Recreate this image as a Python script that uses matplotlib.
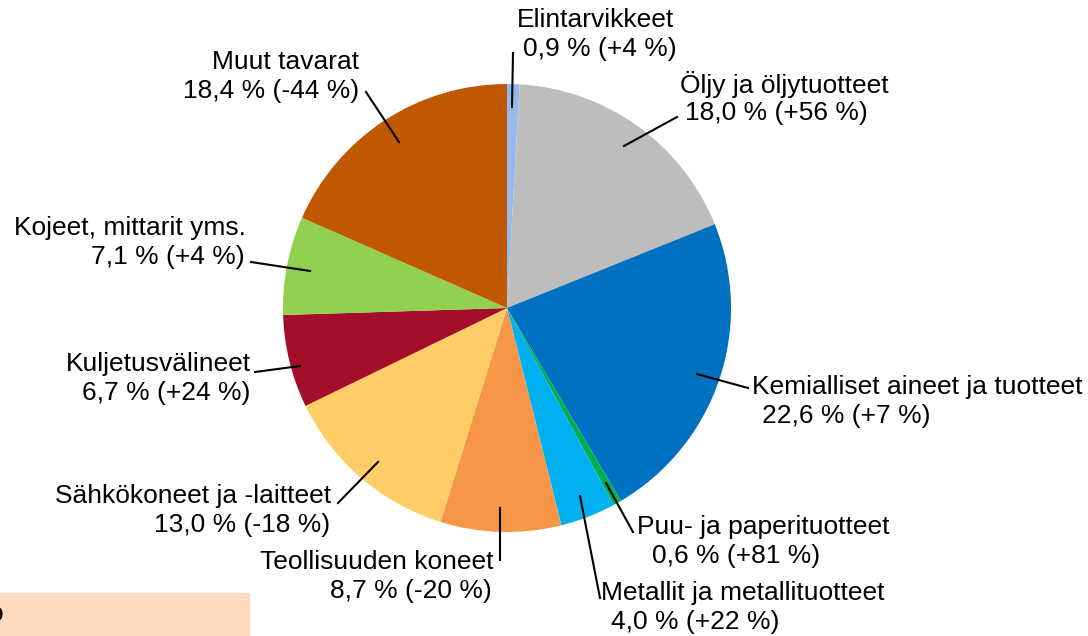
import matplotlib
matplotlib.use('Agg')
import matplotlib.pyplot as plt
from matplotlib.patches import Rectangle

plt.rcParams['font.family'] = ['Liberation Sans', 'DejaVu Sans']

# data (share of imports, clockwise from top)
categories = ['Elintarvikkeet', 'Öljy ja öljytuotteet', 'Kemialliset aineet ja tuotteet',
              'Puu- ja paperituotteet', 'Metallit ja metallituotteet', 'Teollisuuden koneet',
              'Sähkökoneet ja -laitteet', 'Kuljetusvälineet', 'Kojeet, mittarit yms.',
              'Muut tavarat']
shares = [0.9, 18.0, 22.6, 0.6, 4.0, 8.7, 13.0, 6.7, 7.1, 18.4]
changes = ['+4', '+56', '+7', '+81', '+22', '-20', '-18', '+24', '+4', '-44']
colors = ['#95B9EC', '#BDBDBD', '#0070C0', '#00B050', '#00B0F0', '#F79646',
          '#FFCC66', '#A50E2A', '#92D050', '#C05800']


def main():
    fig = plt.figure(figsize=(10.88, 6.36), dpi=100)
    ax = fig.add_axes([0, 0, 1, 1])

    # pixel-like coordinates, y grows downwards
    cx, cy, r = 507, 308, 224
    ax.pie(shares, colors=colors, startangle=-90, counterclock=True,
           center=(cx, cy), radius=r, wedgeprops=dict(linewidth=0))
    ax.set_xlim(0, 1088)
    ax.set_ylim(636, 0)
    ax.set_aspect('equal')
    ax.axis('off')

    # label line positions: (x, y of first line, x of second line, align)
    places = [
        (517, 20, 523, 'left'),
        (680, 84, 685, 'left'),
        (752, 387, 762, 'left'),
        (637, 527, 652, 'left'),
        (601, 593, 611, 'left'),
        (493, 562, 492, 'right'),
        (331, 496, 330, 'right'),
        (251, 364, 250, 'right'),
        (246, 228, 245, 'right'),
        (359, 62, 359, 'right'),
    ]
    leaders = [
        ((513, 53), (512, 107)),
        ((677, 117), (624, 146)),
        ((748, 388), (697, 374)),
        ((633, 532), (606, 483)),
        ((600, 598), (580, 496)),
        ((500, 560), (500, 508)),
        ((338, 503), (378, 462)),
        ((255, 372), (300, 366)),
        ((251, 262), (310, 271)),
        ((366, 92), (399, 142)),
    ]

    for name, share, ch, (x1, y1, x2, ha), (p0, p1) in zip(
            categories, shares, changes, places, leaders):
        ax.text(x1, y1, name, ha=ha, va='center', fontsize=19)
        val = f'{share:.1f}'.replace('.', ',') + f' % ({ch} %)'
        ax.text(x2, y1 + 29, val, ha=ha, va='center', fontsize=19)
        ax.plot([p0[0], p1[0]], [p0[1], p1[1]], color='black', lw=1.5)

    # partly visible note box at the bottom left
    ax.add_patch(Rectangle((0, 593), 250, 50, facecolor='#FDDBC0', edgecolor='none'))
    ax.text(4, 614, 'o', ha='right', va='center', fontsize=19)

    fig.savefig('out.png', dpi=100)
    plt.close(fig)


if __name__ == '__main__':
    main()
